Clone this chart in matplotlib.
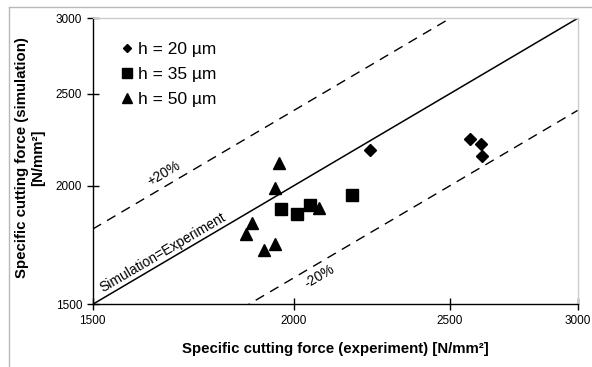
import matplotlib
matplotlib.use("Agg")
import matplotlib.pyplot as plt
from matplotlib.ticker import FixedLocator, FixedFormatter, NullLocator
from matplotlib.lines import Line2D
import numpy as np

plt.rcParams['font.family'] = ['Liberation Sans', 'DejaVu Sans']

# data
h20_x = [2229, 2572, 2613, 2617]
h20_y = [2179, 2237, 2210, 2149]
h35_x = [1964, 2009, 2045, 2172]
h35_y = [1888, 1866, 1907, 1955]
h50_x = [1957, 1946, 2073, 1883, 1867, 1946, 1915]
h50_y = [2111, 1987, 1896, 1825, 1777, 1737, 1711]
ticks = [1500, 2000, 2500, 3000]
tick_labels = ['1500', '2000', '2500', '3000']
ref_x = [1500, 3000]
labels = ['h = 20 µm', 'h = 35 µm', 'h = 50 µm']

W, H = 592, 367
fig = plt.figure(figsize=(W / 100, H / 100), dpi=100)
ax = fig.add_axes([0.1566, 0.1708, 0.9758 - 0.1566, 0.9501 - 0.1708])
ax.set_xscale('log')
ax.set_yscale('log')
ax.set_xlim(1500, 3000)
ax.set_ylim(1500, 3000)

rx = np.array(ref_x, dtype=float)
ax.plot(rx, rx, color='black', lw=1.1)
ax.plot(rx, rx * 1.2, color='black', lw=1.0, dashes=(7, 5))
ax.plot(rx, rx * 0.8, color='black', lw=1.0, dashes=(7, 5))

ax.plot(h20_x, h20_y, 'D', color='black', ms=6.5, ls='none')
ax.plot(h35_x, h35_y, 's', color='black', ms=8, ls='none')
ax.plot(h50_x, h50_y, '^', color='black', ms=9, ls='none')

for a in (ax.xaxis, ax.yaxis):
    a.set_major_locator(FixedLocator(ticks))
    a.set_major_formatter(FixedFormatter(tick_labels))
    a.set_minor_locator(NullLocator())
ax.tick_params(direction='inout', length=9, width=1, labelsize=8.5, colors='black')
ax.tick_params(axis='x', pad=3)
ax.tick_params(axis='y', pad=3)

for s in ('left', 'bottom'):
    ax.spines[s].set_color('black')
    ax.spines[s].set_linewidth(1)
for s in ('top', 'right'):
    ax.spines[s].set_color('#cccccc')
    ax.spines[s].set_linewidth(1)

fig.text(335 / W, 1 - 349 / H, 'Specific cutting force (experiment) [N/mm²]',
         fontsize=10.8, fontweight='bold', ha='center', va='center')
fig.text(30 / W, 1 - 158 / H, 'Specific cutting force (simulation)\n[N/mm²]',
         fontsize=10.8, fontweight='bold', ha='center', va='center',
         rotation=90, multialignment='center', linespacing=1.2)

ang = 30.4
ax.text(1522, 1545, 'Simulation=Experiment', rotation=ang, fontsize=10,
        ha='left', va='baseline', rotation_mode='anchor')
ax.text(1628, 1998, '+20%', rotation=ang, fontsize=10, ha='left', va='baseline',
        rotation_mode='anchor')
ax.text(2038, 1560, '-20%', rotation=ang, fontsize=10, ha='left', va='baseline',
        rotation_mode='anchor')

handles = [Line2D([], [], marker='D', color='black', ls='none', ms=4.5),
           Line2D([], [], marker='s', color='black', ls='none', ms=6.5),
           Line2D([], [], marker='^', color='black', ls='none', ms=6.5)]
ax.legend(handles, labels, loc='upper left', bbox_to_anchor=(0.0584, 0.917),
          frameon=False, fontsize=12.5, handlelength=0.7, handletextpad=0.25,
          labelspacing=0.55, borderaxespad=0, borderpad=0)

# outer light-gray frame
fig.add_artist(Line2D([9 / W, 9 / W], [0, 1 - 7 / H], transform=fig.transFigure,
                      color='#b8b8b8', lw=1))
fig.add_artist(Line2D([9 / W, 1], [1 - 7 / H, 1 - 7 / H], transform=fig.transFigure,
                      color='#b8b8b8', lw=1))

fig.savefig('out.png', dpi=100)
